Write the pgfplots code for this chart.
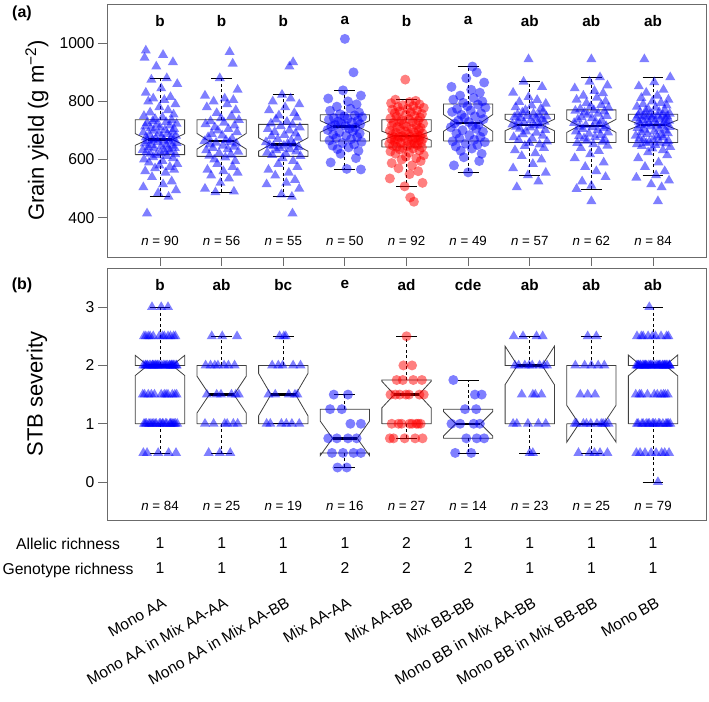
\documentclass[border=0pt]{standalone}
\usepackage{pgfplots}
\pgfplotsset{compat=1.18}
\usepackage{fontspec}
\setmainfont{Liberation Sans}
\newcommand\fs[1]{\fontsize{#1}{#1}\selectfont}
\definecolor{framec}{gray}{0.42}
\tikzset{
 lett/.style={font=\fs{15.3}\bfseries},
 nlab/.style={font=\fs{13.3}},
}
\pgfplotsset{
 panel/.style={scale only axis, width=599pt, xmin=0.14, xmax=9.86, clip=false,
   axis line style={framec, line width=0.8pt},
   tick style={framec, line width=0.8pt},
   tick align=outside, major tick length=9pt, tick pos=left,
   tick label style={font=\fs{15.7}},
   /pgf/number format/assume math mode=true,
   /pgf/number format/1000 sep={},
   ylabel style={font=\fs{22}, at={(axis description cs:-0.117,0.5)}, anchor=center},
 },
 bx/.style={draw=black!75, fill=white, line width=0.8pt},
 wh/.style={black, line width=0.8pt, unbounded coords=jump, dash pattern=on 3pt off 2.5pt},
 cap/.style={black, line width=0.8pt, unbounded coords=jump},
 med/.style={black, line width=2.4pt, unbounded coords=jump},
 tri/.style={only marks, mark=triangle*, mark size=5.8pt, mark options={fill=blue, fill opacity=0.5, draw opacity=0}},
 cir/.style={only marks, mark=*, mark size=5pt, mark options={fill=blue, fill opacity=0.5, draw opacity=0}},
 cirr/.style={only marks, mark=*, mark size=5pt, mark options={fill=red, fill opacity=0.5, draw opacity=0}},
}
\begin{document}
\begin{tikzpicture}
\useasboundingbox (0,0) rectangle (709pt,-701pt);
% ---------------- panel (a) ----------------
\begin{axis}[panel, at={(107pt,-257pt)}, anchor=south west, height=253pt,
  ymin=265, ymax=1135, ytick={400,600,800,1000}, xtick={1,...,9}, xticklabels={},
  ylabel={Grain yield (g m\textsuperscript{−2})}]
\addplot[bx] coordinates {(0.6,617)(0.6,649)(0.8,669)(0.6,689)(0.6,737)(1.4,737)(1.4,689)(1.2,669)(1.4,649)(1.4,617)(0.6,617)};
\addplot[bx] coordinates {(1.6,611)(1.6,636)(1.8,663)(1.6,690)(1.6,737)(2.4,737)(2.4,690)(2.2,663)(2.4,636)(2.4,611)(1.6,611)};
\addplot[bx] coordinates {(2.6,611)(2.6,629)(2.8,652)(2.6,675)(2.6,721)(3.4,721)(3.4,675)(3.2,652)(3.4,629)(3.4,611)(2.6,611)};
\addplot[bx] coordinates {(3.6,664)(3.6,694)(3.8,714)(3.6,734)(3.6,754)(4.4,754)(4.4,734)(4.2,714)(4.4,694)(4.4,664)(3.6,664)};
\addplot[bx] coordinates {(4.6,643)(4.6,666.5)(4.8,682)(4.6,697.5)(4.6,737)(5.4,737)(5.4,697.5)(5.2,682)(5.4,666.5)(5.4,643)(4.6,643)};
\addplot[bx] coordinates {(5.6,664)(5.6,697)(5.8,726)(5.6,755)(5.6,791)(6.4,791)(6.4,755)(6.2,726)(6.4,697)(6.4,664)(5.6,664)};
\addplot[bx] coordinates {(6.6,659)(6.6,699)(6.8,719)(6.6,739)(6.6,756)(7.4,756)(7.4,739)(7.2,719)(7.4,699)(7.4,659)(6.6,659)};
\addplot[bx] coordinates {(7.6,659)(7.6,693.5)(7.8,716)(7.6,738.5)(7.6,771)(8.4,771)(8.4,738.5)(8.2,716)(8.4,693.5)(8.4,659)(7.6,659)};
\addplot[bx] coordinates {(8.6,659)(8.6,702)(8.8,719)(8.6,736)(8.6,756)(9.4,756)(9.4,736)(9.2,719)(9.4,702)(9.4,659)(8.6,659)};
\addplot[wh] coordinates {(1,737)(1,880)(1,nan)(1,617)(1,472)(1,nan)
 (2,737)(2,880)(2,nan)(2,611)(2,488)(2,nan)
 (3,721)(3,823)(3,nan)(3,611)(3,472)(3,nan)
 (4,754)(4,838)(4,nan)(4,664)(4,566)(4,nan)
 (5,737)(5,806)(5,nan)(5,643)(5,508)(5,nan)
 (6,791)(6,920)(6,nan)(6,664)(6,556)(6,nan)
 (7,756)(7,868)(7,nan)(7,659)(7,546)(7,nan)
 (8,771)(8,883)(8,nan)(8,659)(8,499)(8,nan)
 (9,756)(9,883)(9,nan)(9,659)(9,546)};
\addplot[cap] coordinates {(0.83,880)(1.17,880)(1,nan)(0.83,472)(1.17,472)(1,nan)
 (1.83,880)(2.17,880)(2,nan)(1.83,488)(2.17,488)(2,nan)
 (2.83,823)(3.17,823)(3,nan)(2.83,472)(3.17,472)(3,nan)
 (3.83,838)(4.17,838)(4,nan)(3.83,566)(4.17,566)(4,nan)
 (4.83,806)(5.17,806)(5,nan)(4.83,508)(5.17,508)(5,nan)
 (5.83,920)(6.17,920)(6,nan)(5.83,556)(6.17,556)(6,nan)
 (6.83,868)(7.17,868)(7,nan)(6.83,546)(7.17,546)(7,nan)
 (7.83,883)(8.17,883)(8,nan)(7.83,499)(8.17,499)(8,nan)
 (8.83,883)(9.17,883)(9,nan)(8.83,546)(9.17,546)};
\addplot[med] coordinates {(0.8,669)(1.2,669)(1,nan)(1.8,663)(2.2,663)(2,nan)(2.8,652)(3.2,652)(3,nan)
 (3.8,714)(4.2,714)(4,nan)(4.8,682)(5.2,682)(5,nan)(5.8,726)(6.2,726)(6,nan)
 (6.8,719)(7.2,719)(7,nan)(7.8,716)(8.2,716)(8,nan)(8.8,719)(9.2,719)};
% points
\addplot[tri] table[x expr=\thisrow{d}+1, y=y, row sep=\\]{d y\\
-0.21 415\\0.14 472\\-0.03 485\\0.26 495\\-0.27 505\\0.05 515\\0.19 525\\-0.13 540\\0.09 555\\-0.24 560\\
0.23 565\\-0.08 570\\0.16 575\\-0.01 580\\0.28 585\\-0.18 590\\0.04 595\\-0.26 600\\0.21 605\\-0.11 608\\
0.11 612\\-0.06 615\\0.25 618\\-0.16 620\\0.01 623\\-0.22 626\\0.17 628\\0.07 630\\-0.28 633\\0.13 636\\
-0.09 638\\0.24 640\\-0.19 643\\0.02 645\\0.20 648\\-0.14 650\\0.10 652\\-0.25 655\\0.27 657\\-0.04 660\\
0.15 662\\-0.20 664\\0.06 666\\-0.12 667\\0.22 669\\-0.07 671\\0.18 674\\-0.23 676\\0.03 679\\0.26 682\\
-0.17 685\\0.12 688\\-0.02 690\\-0.27 693\\0.20 696\\-0.10 699\\0.08 702\\0.23 705\\-0.15 708\\0.00 711\\
-0.24 714\\0.16 717\\-0.05 720\\0.27 723\\-0.21 726\\0.10 729\\-0.12 732\\0.19 735\\-0.08 740\\0.04 745\\
-0.26 750\\0.22 755\\-0.16 762\\0.13 770\\-0.01 780\\0.25 790\\-0.19 800\\0.07 805\\-0.11 810\\0.17 815\\
-0.23 830\\0.02 845\\0.28 860\\-0.14 875\\0.11 880\\-0.06 920\\0.21 935\\-0.25 950\\0.05 960\\-0.23 975\\};
\addplot[tri] table[x expr=\thisrow{d}+2, y=y, row sep=\\]{d y\\
0.13 970\\0.18 930\\-0.03 880\\0.26 840\\-0.27 820\\0.05 810\\0.19 805\\-0.13 800\\0.09 790\\-0.24 780\\
0.23 770\\-0.08 760\\0.16 750\\-0.01 742\\0.28 736\\-0.18 732\\0.04 727\\-0.26 722\\0.21 717\\-0.11 711\\
0.11 705\\-0.06 700\\0.25 694\\-0.16 688\\0.01 683\\-0.22 677\\0.17 672\\0.07 667\\-0.28 663\\0.13 660\\
-0.09 658\\0.24 655\\-0.19 652\\0.02 648\\0.20 644\\-0.14 640\\0.10 636\\-0.25 632\\0.27 627\\-0.04 622\\
0.15 617\\-0.20 613\\0.06 607\\-0.12 600\\0.22 595\\-0.07 585\\0.18 575\\-0.23 565\\0.03 560\\0.26 555\\
-0.17 545\\0.12 535\\-0.02 520\\-0.27 500\\0.20 490\\-0.10 488\\};
\addplot[tri] table[x expr=\thisrow{d}+3, y=y, row sep=\\]{d y\\
0.15 415\\0.14 472\\-0.03 480\\0.26 500\\-0.27 515\\0.05 520\\0.19 530\\-0.13 545\\0.09 555\\-0.24 565\\
0.23 575\\-0.08 585\\0.16 595\\-0.01 605\\0.28 612\\-0.18 616\\0.04 620\\-0.26 624\\0.21 628\\-0.11 632\\
0.11 636\\-0.06 640\\0.25 643\\-0.16 646\\0.01 648\\-0.22 650\\0.17 652\\0.07 655\\-0.28 660\\0.13 665\\
-0.09 670\\0.24 675\\-0.19 680\\0.02 685\\0.20 690\\-0.14 695\\0.10 700\\-0.25 705\\0.27 710\\-0.04 715\\
0.15 720\\-0.20 724\\0.06 730\\-0.12 738\\0.22 745\\-0.07 752\\0.18 760\\-0.23 770\\0.03 780\\0.26 790\\
-0.17 800\\0.12 810\\-0.02 823\\0.10 920\\0.16 935\\};
\addplot[cir] table[x expr=\thisrow{d}+4, y=y, row sep=\\]{d y\\
0.00 1015\\0.14 900\\-0.03 838\\0.26 820\\-0.27 810\\0.05 800\\0.19 790\\-0.13 782\\0.09 775\\-0.24 768\\
0.23 762\\-0.08 756\\0.16 752\\-0.01 749\\0.28 746\\-0.18 743\\0.04 740\\-0.26 737\\0.21 734\\-0.11 731\\
0.11 728\\-0.06 725\\0.25 722\\-0.16 719\\0.01 716\\-0.22 713\\0.17 710\\0.07 706\\-0.28 702\\0.13 698\\
-0.09 694\\0.24 690\\-0.19 686\\0.02 682\\0.20 678\\-0.14 674\\0.10 670\\-0.25 666\\0.27 661\\-0.04 657\\
0.15 652\\-0.20 648\\0.06 642\\-0.12 636\\0.22 630\\-0.07 620\\0.18 605\\-0.23 590\\0.03 568\\0.26 566\\};
\addplot[cirr] table[x expr=\thisrow{d}+5, y=y, row sep=\\]{d y\\
0.12 455\\0.06 470\\-0.03 508\\0.26 520\\-0.27 535\\0.05 550\\0.19 560\\-0.13 570\\0.09 580\\-0.24 588\\
0.23 595\\-0.08 600\\0.16 605\\-0.01 610\\0.28 615\\-0.18 620\\0.04 624\\-0.26 628\\0.21 632\\-0.11 635\\
0.11 638\\-0.06 640\\0.25 642\\-0.16 644\\0.01 646\\-0.22 648\\0.17 650\\0.07 652\\-0.28 654\\0.13 656\\
-0.09 658\\0.24 660\\-0.19 662\\0.02 664\\0.20 666\\-0.14 668\\0.10 669\\-0.25 671\\0.27 672\\-0.04 674\\
0.15 675\\-0.20 677\\0.06 678\\-0.12 679\\0.22 680\\-0.07 681\\0.18 684\\-0.23 686\\0.03 688\\0.26 690\\
-0.17 692\\0.12 694\\-0.02 697\\-0.27 699\\0.20 702\\-0.10 704\\0.08 707\\0.23 709\\-0.15 712\\0.00 714\\
-0.24 717\\0.16 719\\-0.05 722\\0.27 724\\-0.21 727\\0.10 729\\-0.12 732\\0.19 734\\-0.08 736\\0.04 739\\
-0.26 742\\0.22 745\\-0.16 748\\0.13 751\\-0.01 754\\0.25 757\\-0.19 760\\0.07 763\\-0.11 766\\0.17 769\\
-0.23 772\\0.02 775\\0.28 778\\-0.14 781\\0.11 784\\-0.06 787\\0.21 790\\-0.25 794\\0.05 798\\0.15 802\\
-0.18 806\\-0.02 875\\};
\addplot[cir] table[x expr=\thisrow{d}+6, y=y, row sep=\\]{d y\\
0.07 920\\0.14 900\\-0.03 880\\0.26 865\\-0.27 850\\0.05 840\\0.19 830\\-0.13 820\\0.09 812\\-0.24 806\\
0.23 800\\-0.08 795\\0.16 789\\-0.01 784\\0.28 779\\-0.18 774\\0.04 769\\-0.26 764\\0.21 759\\-0.11 754\\
0.11 749\\-0.06 744\\0.25 739\\-0.16 734\\0.01 729\\-0.22 724\\0.17 720\\0.07 716\\-0.28 711\\0.13 706\\
-0.09 701\\0.24 696\\-0.19 690\\0.02 684\\0.20 678\\-0.14 673\\0.10 668\\-0.25 663\\0.27 660\\-0.04 655\\
0.15 650\\-0.20 645\\0.06 638\\-0.12 630\\0.22 620\\-0.07 608\\0.18 595\\-0.23 580\\0.00 556\\};
\addplot[tri] table[x expr=\thisrow{d}+7, y=y, row sep=\\]{d y\\
-0.21 505\\0.14 525\\-0.03 546\\0.26 555\\-0.27 570\\0.05 585\\0.19 600\\-0.13 612\\0.09 622\\-0.24 632\\
0.23 640\\-0.08 647\\0.16 652\\-0.01 657\\0.28 662\\-0.18 667\\0.04 672\\-0.26 677\\0.21 682\\-0.11 687\\
0.11 692\\-0.06 697\\0.25 702\\-0.16 706\\0.01 710\\-0.22 713\\0.17 716\\0.07 718\\-0.28 721\\0.13 724\\
-0.09 727\\0.24 730\\-0.19 733\\0.02 736\\0.20 739\\-0.14 742\\0.10 744\\-0.25 746\\0.27 748\\-0.04 750\\
0.15 752\\-0.20 755\\0.06 758\\-0.12 762\\0.22 766\\-0.07 770\\0.18 775\\-0.23 780\\0.03 786\\0.26 792\\
-0.17 798\\0.12 805\\-0.02 815\\-0.27 830\\0.20 850\\-0.10 868\\-0.02 945\\};
\addplot[tri] table[x expr=\thisrow{d}+8, y=y, row sep=\\]{d y\\
0.00 945\\0.14 883\\-0.03 868\\0.26 855\\-0.27 845\\0.05 836\\0.19 828\\-0.13 820\\0.09 813\\-0.24 806\\
0.23 800\\-0.08 794\\0.16 788\\-0.01 783\\0.28 778\\-0.18 774\\0.04 770\\-0.26 768\\0.21 765\\-0.11 762\\
0.11 758\\-0.06 754\\0.25 750\\-0.16 746\\0.01 742\\-0.22 738\\0.17 734\\0.07 730\\-0.28 726\\0.13 722\\
-0.09 718\\0.24 715\\-0.19 713\\0.02 711\\0.20 708\\-0.14 705\\0.10 701\\-0.25 697\\0.27 693\\-0.04 689\\
0.15 685\\-0.20 681\\0.06 677\\-0.12 673\\0.22 669\\-0.07 665\\0.18 661\\-0.23 657\\0.03 653\\0.26 648\\
-0.17 640\\0.12 630\\-0.02 618\\-0.27 605\\0.20 590\\-0.10 575\\0.08 560\\0.23 540\\-0.15 525\\0.00 510\\
-0.24 499\\0.00 457\\};
\addplot[tri] table[x expr=\thisrow{d}+9, y=y, row sep=\\]{d y\\
0.08 457\\0.14 505\\-0.03 515\\0.26 528\\-0.27 538\\0.05 546\\0.19 560\\-0.13 575\\0.09 590\\-0.24 605\\
0.23 615\\-0.08 625\\0.16 632\\-0.01 638\\0.28 643\\-0.18 647\\0.04 650\\-0.26 653\\0.21 655\\-0.11 657\\
0.11 658\\-0.06 661\\0.25 664\\-0.16 667\\0.01 670\\-0.22 673\\0.17 676\\0.07 679\\-0.28 682\\0.13 685\\
-0.09 688\\0.24 691\\-0.19 694\\0.02 697\\0.20 700\\-0.14 703\\0.10 706\\-0.25 709\\0.27 712\\-0.04 714\\
0.15 716\\-0.20 718\\0.06 720\\-0.12 722\\0.22 724\\-0.07 726\\0.18 728\\-0.23 730\\0.03 732\\0.26 734\\
-0.17 736\\0.12 738\\-0.02 740\\-0.27 742\\0.20 744\\-0.10 746\\0.08 748\\0.23 749\\-0.15 750\\0.00 751\\
-0.24 752\\0.16 754\\-0.05 755\\0.27 758\\-0.21 761\\0.10 764\\-0.12 767\\0.19 770\\-0.08 774\\0.04 778\\
-0.26 782\\0.22 786\\-0.16 790\\0.13 795\\-0.01 800\\0.25 806\\-0.19 812\\0.07 820\\-0.11 830\\0.17 840\\
-0.23 852\\0.02 866\\0.28 883\\-0.14 945\\};
% letters and n
\node[lett] at (axis cs:1,1077) {b};
\node[lett] at (axis cs:2,1077) {b};
\node[lett] at (axis cs:3,1077) {b};
\node[lett] at (axis cs:4,1077) {a};
\node[lett] at (axis cs:5,1077) {b};
\node[lett] at (axis cs:6,1077) {a};
\node[lett] at (axis cs:7,1077) {ab};
\node[lett] at (axis cs:8,1077) {ab};
\node[lett] at (axis cs:9,1077) {ab};
\node[nlab] at (axis cs:1,320) {\textit{n} = 90};
\node[nlab] at (axis cs:2,320) {\textit{n} = 56};
\node[nlab] at (axis cs:3,320) {\textit{n} = 55};
\node[nlab] at (axis cs:4,320) {\textit{n} = 50};
\node[nlab] at (axis cs:5,320) {\textit{n} = 92};
\node[nlab] at (axis cs:6,320) {\textit{n} = 49};
\node[nlab] at (axis cs:7,320) {\textit{n} = 57};
\node[nlab] at (axis cs:8,320) {\textit{n} = 62};
\node[nlab] at (axis cs:9,320) {\textit{n} = 84};
\end{axis}
% ---------------- panel (b) ----------------
\begin{axis}[panel, at={(107pt,-520pt)}, anchor=south west, height=252pt,
  ymin=-0.65, ymax=3.67, ytick={0,1,2,3}, xtick=\empty,
  ylabel={STB severity}]
\addplot[bx] coordinates {(0.6,1)(0.6,1.828)(0.8,2)(0.6,2.172)(0.6,2)(1.4,2)(1.4,2.172)(1.2,2)(1.4,1.828)(1.4,1)(0.6,1)};
\addplot[bx] coordinates {(1.6,1)(1.6,1.184)(1.8,1.5)(1.6,1.816)(1.6,2)(2.4,2)(2.4,1.816)(2.2,1.5)(2.4,1.184)(2.4,1)(1.6,1)};
\addplot[bx] coordinates {(2.6,1)(2.6,1.138)(2.8,1.5)(2.6,1.862)(2.6,2)(3.4,2)(3.4,1.862)(3.2,1.5)(3.4,1.138)(3.4,1)(2.6,1)};
\addplot[bx] coordinates {(3.6,0.5)(3.6,0.454)(3.8,0.75)(3.6,1.046)(3.6,1.25)(4.4,1.25)(4.4,1.046)(4.2,0.75)(4.4,0.454)(4.4,0.5)(3.6,0.5)};
\addplot[bx] coordinates {(4.6,1)(4.6,1.272)(4.8,1.5)(4.6,1.728)(4.6,1.75)(5.4,1.75)(5.4,1.728)(5.2,1.5)(5.4,1.272)(5.4,1)(4.6,1)};
\addplot[bx] coordinates {(5.6,0.75)(5.6,0.789)(5.8,1)(5.6,1.211)(5.6,1.25)(6.4,1.25)(6.4,1.211)(6.2,1)(6.4,0.789)(6.4,0.75)(5.6,0.75)};
\addplot[bx] coordinates {(6.6,1)(6.6,1.67)(6.8,2)(6.6,2.33)(6.6,2)(7.4,2)(7.4,2.33)(7.2,2)(7.4,1.67)(7.4,1)(6.6,1)};
\addplot[bx] coordinates {(7.6,1)(7.6,0.684)(7.8,1)(7.6,1.316)(7.6,2)(8.4,2)(8.4,1.316)(8.2,1)(8.4,0.684)(8.4,1)(7.6,1)};
\addplot[bx] coordinates {(8.6,1)(8.6,1.822)(8.8,2)(8.6,2.178)(8.6,2)(9.4,2)(9.4,2.178)(9.2,2)(9.4,1.822)(9.4,1)(8.6,1)};
\addplot[wh] coordinates {(1,2)(1,3)(1,nan)(1,1)(1,0.5)(1,nan)
 (2,2)(2,2.5)(2,nan)(2,1)(2,0.5)(2,nan)
 (3,2)(3,2.5)(3,nan)
 (4,1.25)(4,1.5)(4,nan)(4,0.5)(4,0.25)(4,nan)
 (5,1.75)(5,2.5)(5,nan)(5,1)(5,0.75)(5,nan)
 (6,1.25)(6,1.75)(6,nan)(6,0.75)(6,0.5)(6,nan)
 (7,2)(7,2.5)(7,nan)(7,1)(7,0.5)(7,nan)
 (8,2)(8,2.5)(8,nan)(8,1)(8,0.5)(8,nan)
 (9,2)(9,3)(9,nan)(9,1)(9,0)};
\addplot[cap] coordinates {(0.83,3)(1.17,3)(1,nan)(0.83,0.5)(1.17,0.5)(1,nan)
 (1.83,2.5)(2.17,2.5)(2,nan)(1.83,0.5)(2.17,0.5)(2,nan)
 (2.83,2.5)(3.17,2.5)(3,nan)(2.83,1)(3.17,1)(3,nan)
 (3.83,1.5)(4.17,1.5)(4,nan)(3.83,0.25)(4.17,0.25)(4,nan)
 (4.83,2.5)(5.17,2.5)(5,nan)(4.83,0.75)(5.17,0.75)(5,nan)
 (5.83,1.75)(6.17,1.75)(6,nan)(5.83,0.5)(6.17,0.5)(6,nan)
 (6.83,2.5)(7.17,2.5)(7,nan)(6.83,0.5)(7.17,0.5)(7,nan)
 (7.83,2.5)(8.17,2.5)(8,nan)(7.83,0.5)(8.17,0.5)(8,nan)
 (8.83,3)(9.17,3)(9,nan)(8.83,0)(9.17,0)};
\addplot[med] coordinates {(0.8,2)(1.2,2)(1,nan)(1.8,1.5)(2.2,1.5)(2,nan)(2.8,1.5)(3.2,1.5)(3,nan)
 (3.8,0.75)(4.2,0.75)(4,nan)(4.8,1.5)(5.2,1.5)(5,nan)(5.8,1)(6.2,1)(6,nan)
 (6.8,2)(7.2,2)(7,nan)(7.8,1)(8.2,1)(8,nan)(8.8,2)(9.2,2)};
% points
\addplot[tri] table[x expr=\thisrow{d}+1, y=y, row sep=\\]{d y\\
-0.21 0.5\\0.14 0.5\\-0.03 0.5\\0.26 0.5\\-0.27 0.5\\
0.05 1\\0.19 1\\-0.13 1\\0.09 1\\-0.24 1\\0.23 1\\-0.08 1\\0.16 1\\-0.01 1\\0.28 1\\-0.18 1\\0.04 1\\-0.26 1\\0.21 1\\-0.11 1\\0.11 1\\-0.06 1\\0.25 1\\-0.16 1\\0.01 1\\-0.22 1\\0.17 1\\
0.07 1.5\\-0.28 1.5\\0.13 1.5\\-0.09 1.5\\0.24 1.5\\-0.19 1.5\\0.02 1.5\\0.20 1.5\\-0.14 1.5\\0.10 1.5\\-0.25 1.5\\0.27 1.5\\
-0.04 2\\0.15 2\\-0.20 2\\0.06 2\\-0.12 2\\0.22 2\\-0.07 2\\0.18 2\\-0.23 2\\0.03 2\\0.26 2\\-0.17 2\\0.12 2\\-0.02 2\\-0.27 2\\0.20 2\\-0.10 2\\0.08 2\\0.23 2\\-0.15 2\\0.00 2\\-0.24 2\\0.16 2\\-0.05 2\\0.27 2\\-0.21 2\\0.10 2\\-0.12 2\\0.19 2\\-0.08 2\\
0.04 2.5\\-0.26 2.5\\0.22 2.5\\-0.16 2.5\\0.13 2.5\\-0.01 2.5\\0.25 2.5\\-0.19 2.5\\0.07 2.5\\-0.11 2.5\\0.17 2.5\\-0.23 2.5\\
-0.13 3\\0.13 3\\0.02 3\\};
\addplot[tri] table[x expr=\thisrow{d}+2, y=y, row sep=\\]{d y\\
-0.21 0.5\\0.14 0.5\\-0.03 0.5\\
0.26 1\\-0.27 1\\0.05 1\\0.19 1\\-0.13 1\\0.09 1\\
-0.24 1.5\\0.23 1.5\\-0.08 1.5\\0.16 1.5\\-0.01 1.5\\0.28 1.5\\
-0.18 2\\0.04 2\\-0.26 2\\0.21 2\\-0.11 2\\0.11 2\\-0.06 2\\
0.25 2.5\\-0.16 2.5\\0.01 2.5\\};
\addplot[tri] table[x expr=\thisrow{d}+3, y=y, row sep=\\]{d y\\
-0.21 1\\0.14 1\\-0.03 1\\0.26 1\\-0.27 1\\0.05 1\\
0.19 1.5\\-0.13 1.5\\0.09 1.5\\-0.24 1.5\\0.23 1.5\\
-0.08 2\\0.16 2\\-0.01 2\\0.28 2\\-0.18 2\\
0.04 2.5\\-0.06 2.5\\0.01 2.5\\};
\addplot[cir] table[x expr=\thisrow{d}+4, y=y, row sep=\\]{d y\\
-0.12 0.25\\0.03 0.25\\
-0.21 0.5\\0.14 0.5\\-0.03 0.5\\0.26 0.5\\
-0.27 0.75\\0.05 0.75\\0.19 0.75\\-0.13 0.75\\
0.09 1\\0.26 1\\
-0.24 1.25\\-0.05 1.25\\
-0.18 1.5\\0.05 1.5\\};
\addplot[cirr] table[x expr=\thisrow{d}+5, y=y, row sep=\\]{d y\\
-0.21 0.75\\0.14 0.75\\-0.03 0.75\\0.26 0.75\\-0.27 0.75\\
0.05 1\\0.19 1\\-0.13 1\\0.09 1\\-0.24 1\\0.23 1\\-0.08 1\\0.16 1\\
-0.01 1.5\\0.28 1.5\\-0.18 1.5\\0.04 1.5\\-0.26 1.5\\0.21 1.5\\-0.11 1.5\\
0.11 1.75\\-0.06 1.75\\0.25 1.75\\-0.16 1.75\\
-0.05 2\\0.09 2\\
0.00 2.5\\};
\addplot[cir] table[x expr=\thisrow{d}+6, y=y, row sep=\\]{d y\\
-0.21 0.5\\0.05 0.5\\
0.14 0.75\\-0.03 0.75\\0.26 0.75\\
-0.27 1\\0.19 1\\-0.13 1\\0.09 1\\
-0.05 1.25\\0.13 1.25\\
0.11 1.5\\0.22 1.5\\
-0.24 1.75\\};
\addplot[tri] table[x expr=\thisrow{d}+7, y=y, row sep=\\]{d y\\
0.00 0.5\\0.05 0.5\\
-0.21 1\\0.14 1\\-0.03 1\\0.26 1\\-0.27 1\\
0.05 1.5\\0.19 1.5\\-0.13 1.5\\0.09 1.5\\
-0.24 2\\0.23 2\\-0.08 2\\0.16 2\\-0.01 2\\0.28 2\\-0.18 2\\0.04 2\\
-0.26 2.5\\0.21 2.5\\-0.11 2.5\\0.11 2.5\\};
\addplot[tri] table[x expr=\thisrow{d}+8, y=y, row sep=\\]{d y\\
-0.21 0.5\\0.14 0.5\\-0.03 0.5\\0.26 0.5\\0.05 0.5\\
-0.27 1\\0.19 1\\-0.13 1\\0.09 1\\-0.24 1\\0.23 1\\-0.08 1\\0.16 1\\-0.01 1\\0.28 1\\
-0.18 1.5\\-0.06 1.5\\0.06 1.5\\
-0.26 2\\0.21 2\\-0.11 2\\0.11 2\\0.00 2\\
-0.06 2.5\\0.08 2.5\\};
\addplot[tri] table[x expr=\thisrow{d}+9, y=y, row sep=\\]{d y\\
0.08 0\\
-0.21 0.5\\0.14 0.5\\-0.03 0.5\\0.26 0.5\\-0.27 0.5\\0.05 0.5\\0.19 0.5\\-0.13 0.5\\
0.09 1\\-0.24 1\\0.23 1\\-0.08 1\\0.16 1\\-0.01 1\\0.28 1\\-0.18 1\\0.04 1\\-0.26 1\\0.21 1\\-0.11 1\\0.11 1\\-0.06 1\\0.25 1\\-0.16 1\\0.01 1\\
-0.22 1.5\\0.17 1.5\\0.07 1.5\\-0.28 1.5\\0.13 1.5\\-0.09 1.5\\0.24 1.5\\-0.19 1.5\\0.02 1.5\\0.20 1.5\\
-0.14 2\\0.10 2\\-0.25 2\\0.27 2\\-0.04 2\\0.15 2\\-0.20 2\\0.06 2\\-0.12 2\\0.22 2\\-0.07 2\\0.18 2\\-0.23 2\\0.03 2\\0.26 2\\-0.17 2\\0.12 2\\-0.02 2\\-0.27 2\\0.20 2\\-0.10 2\\0.08 2\\0.23 2\\-0.15 2\\0.00 2\\-0.24 2\\0.16 2\\-0.05 2\\0.27 2\\-0.21 2\\0.10 2\\-0.12 2\\0.19 2\\
-0.08 2.5\\0.04 2.5\\-0.26 2.5\\0.22 2.5\\-0.16 2.5\\0.13 2.5\\-0.01 2.5\\0.25 2.5\\-0.19 2.5\\
-0.06 3\\};
% letters and n
\node[lett] at (axis cs:1,3.38) {b};
\node[lett] at (axis cs:2,3.38) {ab};
\node[lett] at (axis cs:3,3.38) {bc};
\node[lett] at (axis cs:4,3.38) {e};
\node[lett] at (axis cs:5,3.38) {ad};
\node[lett] at (axis cs:6,3.38) {cde};
\node[lett] at (axis cs:7,3.38) {ab};
\node[lett] at (axis cs:8,3.38) {ab};
\node[lett] at (axis cs:9,3.38) {ab};
\node[nlab] at (axis cs:1,-0.41) {\textit{n} = 84};
\node[nlab] at (axis cs:2,-0.41) {\textit{n} = 25};
\node[nlab] at (axis cs:3,-0.41) {\textit{n} = 19};
\node[nlab] at (axis cs:4,-0.41) {\textit{n} = 16};
\node[nlab] at (axis cs:5,-0.41) {\textit{n} = 27};
\node[nlab] at (axis cs:6,-0.41) {\textit{n} = 14};
\node[nlab] at (axis cs:7,-0.41) {\textit{n} = 23};
\node[nlab] at (axis cs:8,-0.41) {\textit{n} = 25};
\node[nlab] at (axis cs:9,-0.41) {\textit{n} = 79};
% richness rows
\node[font=\fs{15.7}, anchor=base] at (axis cs:1,-1.144) {1};
\node[font=\fs{15.7}, anchor=base] at (axis cs:2,-1.144) {1};
\node[font=\fs{15.7}, anchor=base] at (axis cs:3,-1.144) {1};
\node[font=\fs{15.7}, anchor=base] at (axis cs:4,-1.144) {1};
\node[font=\fs{15.7}, anchor=base] at (axis cs:5,-1.144) {2};
\node[font=\fs{15.7}, anchor=base] at (axis cs:6,-1.144) {1};
\node[font=\fs{15.7}, anchor=base] at (axis cs:7,-1.144) {1};
\node[font=\fs{15.7}, anchor=base] at (axis cs:8,-1.144) {1};
\node[font=\fs{15.7}, anchor=base] at (axis cs:9,-1.144) {1};
\node[font=\fs{15.7}, anchor=base] at (axis cs:1,-1.572) {1};
\node[font=\fs{15.7}, anchor=base] at (axis cs:2,-1.572) {1};
\node[font=\fs{15.7}, anchor=base] at (axis cs:3,-1.572) {1};
\node[font=\fs{15.7}, anchor=base] at (axis cs:4,-1.572) {2};
\node[font=\fs{15.7}, anchor=base] at (axis cs:5,-1.572) {2};
\node[font=\fs{15.7}, anchor=base] at (axis cs:6,-1.572) {2};
\node[font=\fs{15.7}, anchor=base] at (axis cs:7,-1.572) {1};
\node[font=\fs{15.7}, anchor=base] at (axis cs:8,-1.572) {1};
\node[font=\fs{15.7}, anchor=base] at (axis cs:9,-1.572) {1};
% category labels
\node[font=\fs{15.5}, anchor=base east, rotate=30, inner sep=0pt] at (axis cs:1.12,-2.12) {Mono AA};
\node[font=\fs{15.5}, anchor=base east, rotate=30, inner sep=0pt] at (axis cs:2.12,-2.12) {Mono AA in Mix AA-AA};
\node[font=\fs{15.5}, anchor=base east, rotate=30, inner sep=0pt] at (axis cs:3.12,-2.12) {Mono AA in Mix AA-BB};
\node[font=\fs{15.5}, anchor=base east, rotate=30, inner sep=0pt] at (axis cs:4.12,-2.12) {Mix AA-AA};
\node[font=\fs{15.5}, anchor=base east, rotate=30, inner sep=0pt] at (axis cs:5.12,-2.12) {Mix AA-BB};
\node[font=\fs{15.5}, anchor=base east, rotate=30, inner sep=0pt] at (axis cs:6.12,-2.12) {Mix BB-BB};
\node[font=\fs{15.5}, anchor=base east, rotate=30, inner sep=0pt] at (axis cs:7.12,-2.12) {Mono BB in Mix AA-BB};
\node[font=\fs{15.5}, anchor=base east, rotate=30, inner sep=0pt] at (axis cs:8.12,-2.12) {Mono BB in Mix BB-BB};
\node[font=\fs{15.5}, anchor=base east, rotate=30, inner sep=0pt] at (axis cs:9.12,-2.12) {Mono BB};
\end{axis}
\node[font=\fs{16}\bfseries] at (22pt,-13pt) {(a)};
\node[font=\fs{16}\bfseries] at (22pt,-285pt) {(b)};
\node[font=\fs{15.7}, anchor=base] at (68pt,-549pt) {Allelic richness};
\node[font=\fs{15.7}, anchor=base] at (68pt,-574pt) {Genotype richness};
\end{tikzpicture}
\end{document}
